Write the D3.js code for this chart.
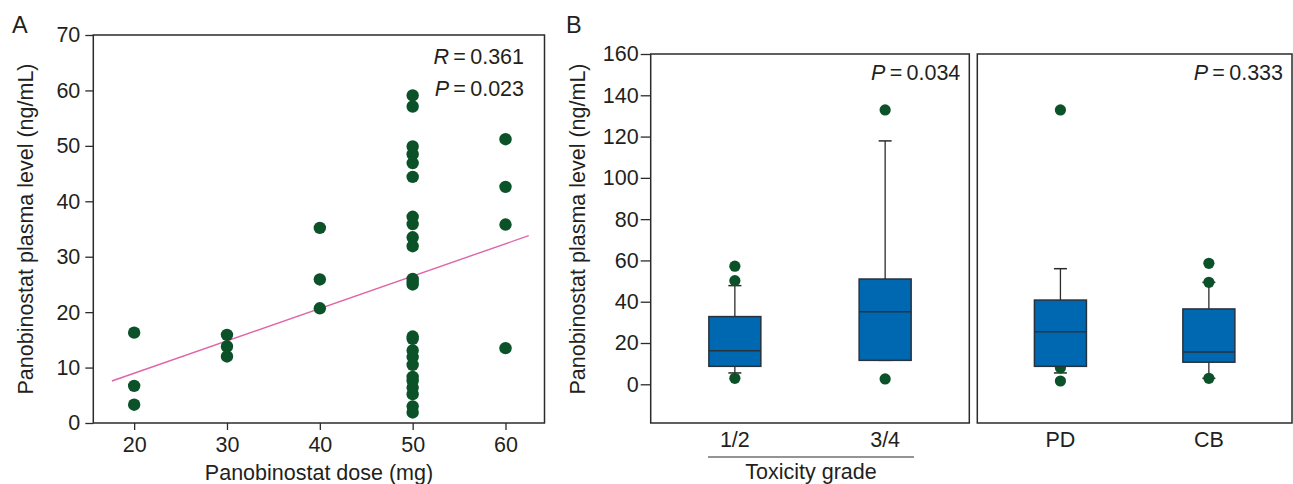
<!DOCTYPE html>
<html>
<head>
<meta charset="utf-8">
<script src="https://cdn.jsdelivr.net/npm/d3@7"></script>
<style>
  body { margin: 0; background: #fff; }
  text { font-family: "Liberation Sans", Arial, sans-serif; fill: #231f20; }
</style>
</head>
<body>
<svg id="svg" width="1293" height="484"></svg>
<script>
// ---- panel A data: plasma level (ng/mL) per dose (mg)
const doseGroups = [20, 30, 40, 50, 60];
const level20 = [16.3, 6.7, 3.3];
const level30 = [15.9, 13.8, 12.0];
const level40 = [35.2, 25.9, 20.7];
const level50 = [59.1, 57.1, 49.9, 48.5, 46.9, 44.4, 37.2, 35.9, 33.5, 31.9, 26.0, 25.5, 25.0,
  15.6, 15.2, 13.1, 11.9, 10.5, 8.3, 7.6, 6.4, 5.2, 3.0, 1.9];
const level60 = [51.2, 42.6, 35.8, 13.5];
const levelsByDose = [level20, level30, level40, level50, level60];
const fitX = [17.6, 62.5];
const fitSlope = 0.584;
const fitIntercept = -2.7;
const levelTicksA = [0, 10, 20, 30, 40, 50, 60, 70];

// ---- panel B data: box plot summaries
const toxGroups = ["1/2", "3/4"];
const respGroups = ["PD", "CB"];
const boxQ1 = { "1/2": 8.7, "3/4": 11.6, "PD": 8.7, "CB": 10.7 };
const boxMedian = { "1/2": 16.3, "3/4": 35.2, "PD": 25.5, "CB": 15.7 };
const boxQ3 = { "1/2": 32.8, "3/4": 51.0, "PD": 40.8, "CB": 36.5 };
const whiskLo = { "1/2": 5.5, "3/4": 11.6, "PD": 5.5, "CB": 2.9 };
const whiskHi = { "1/2": 47.8, "3/4": 117.9, "PD": 56.0, "CB": 49.4 };
const outliers = { "1/2": [57.2, 50.2, 2.9], "3/4": [132.9, 2.6], "PD": [132.9, 8.0, 1.6], "CB": [58.6, 49.4, 2.9] };
const levelTicksB = [0, 20, 40, 60, 80, 100, 120, 140, 160];

const dotColor = "#0b5229";
const boxColor = "#0067b1";
const ink = "#2b2b2b";
const font = "Liberation Sans, Arial, sans-serif";
const fs = 21.5;

const svg = d3.select("#svg");

function styleAxis(g) {
  g.select(".domain").remove();
  g.selectAll(".tick line").attr("stroke", ink).attr("stroke-width", 1.3);
  g.selectAll(".tick text").attr("font-size", fs).attr("font-family", font).attr("fill", "#231f20");
}

// ================= Panel A =================
const ax = d3.scaleLinear().domain([15.6, 64.2]).range([93.3, 544.5]);
const ay = d3.scaleLinear().domain([0, 70]).range([423, 35]);

svg.append("rect")
  .attr("x", ax.range()[0]).attr("y", ay.range()[1])
  .attr("width", ax.range()[1] - ax.range()[0])
  .attr("height", ay.range()[0] - ay.range()[1])
  .attr("fill", "none").attr("stroke", ink).attr("stroke-width", 1.5);

svg.append("g")
  .attr("transform", `translate(${ax.range()[0]},0)`)
  .call(d3.axisLeft(ay).tickValues(levelTicksA).tickSize(8).tickPadding(5))
  .call(styleAxis);

svg.append("g")
  .attr("transform", `translate(0,${ay.range()[0]})`)
  .call(d3.axisBottom(ax).tickValues(doseGroups).tickSize(7).tickPadding(7))
  .call(styleAxis);

svg.append("line")
  .attr("x1", ax(fitX[0])).attr("y1", ay(fitIntercept + fitSlope * fitX[0]))
  .attr("x2", ax(fitX[1])).attr("y2", ay(fitIntercept + fitSlope * fitX[1]))
  .attr("stroke", "#e064a6").attr("stroke-width", 1.4);

const pointsA = doseGroups.flatMap((dose, i) => levelsByDose[i].map(v => ({ dose, v })));

svg.append("g").selectAll("circle")
  .data(pointsA)
  .join("circle")
  .attr("cx", d => ax(d.dose))
  .attr("cy", d => ay(d.v))
  .attr("r", 6.2)
  .attr("fill", dotColor);

svg.append("text").attr("x", 12).attr("y", 33).attr("font-size", 23.5).text("A");

svg.append("text")
  .attr("transform", "translate(33,229) rotate(-90)")
  .attr("text-anchor", "middle").attr("font-size", fs)
  .text("Panobinostat plasma level (ng/mL)");

svg.append("text")
  .attr("x", 319).attr("y", 480)
  .attr("text-anchor", "middle").attr("font-size", fs)
  .text("Panobinostat dose (mg)");

function statText(x, y, letter, value) {
  const t = svg.append("text").attr("x", x).attr("y", y)
    .attr("text-anchor", "end").attr("font-size", fs);
  t.append("tspan").attr("font-style", "italic").text(letter);
  t.append("tspan").text("\u2009=\u20090." + value);
}
statText(524, 64, "R", "361");
statText(524, 96, "P", "023");

// ================= Panel B =================
const by = d3.scaleLinear().domain([-18.75, 160]).range([423, 54]);

function boxPanel(groups, x0, x1, pText, withAxis) {
  const bx = d3.scalePoint().domain(groups).range([x0, x1]).padding(0.56);
  const bw = 52, cap = 13;

  svg.append("rect")
    .attr("x", x0).attr("y", by.range()[1])
    .attr("width", x1 - x0).attr("height", by.range()[0] - by.range()[1])
    .attr("fill", "none").attr("stroke", ink).attr("stroke-width", 1.5);

  if (withAxis) {
    svg.append("g")
      .attr("transform", `translate(${x0},0)`)
      .call(d3.axisLeft(by).tickValues(levelTicksB).tickSize(10).tickPadding(2))
      .call(styleAxis);
  }

  const g = svg.append("g").selectAll("g").data(groups).join("g");

  g.append("line")
    .attr("x1", d => bx(d)).attr("x2", d => bx(d))
    .attr("y1", d => by(whiskLo[d])).attr("y2", d => by(whiskHi[d]))
    .attr("stroke", ink).attr("stroke-width", 1.3);
  g.append("line")
    .attr("x1", d => bx(d) - cap / 2).attr("x2", d => bx(d) + cap / 2)
    .attr("y1", d => by(whiskHi[d])).attr("y2", d => by(whiskHi[d]))
    .attr("stroke", ink).attr("stroke-width", 1.5);
  g.append("line")
    .attr("x1", d => bx(d) - cap / 2).attr("x2", d => bx(d) + cap / 2)
    .attr("y1", d => by(whiskLo[d])).attr("y2", d => by(whiskLo[d]))
    .attr("stroke", ink).attr("stroke-width", 1.5);

  g.selectAll("circle")
    .data(d => outliers[d].map(v => ({ g: d, v })))
    .join("circle")
    .attr("cx", d => bx(d.g))
    .attr("cy", d => by(d.v))
    .attr("r", 5.6)
    .attr("fill", dotColor);

  g.append("rect")
    .attr("x", d => bx(d) - bw / 2).attr("width", bw)
    .attr("y", d => by(boxQ3[d]))
    .attr("height", d => by(boxQ1[d]) - by(boxQ3[d]))
    .attr("fill", boxColor).attr("stroke", "#26323d").attr("stroke-width", 1.5);
  g.append("line")
    .attr("x1", d => bx(d) - bw / 2).attr("x2", d => bx(d) + bw / 2)
    .attr("y1", d => by(boxMedian[d])).attr("y2", d => by(boxMedian[d]))
    .attr("stroke", "#26323d").attr("stroke-width", 1.5);

  svg.append("g").selectAll("text").data(groups).join("text")
    .attr("x", d => bx(d)).attr("y", 447)
    .attr("text-anchor", "middle").attr("font-size", fs)
    .text(d => d);

  const t = svg.append("text").attr("x", x1 - 9).attr("y", 80)
    .attr("text-anchor", "end").attr("font-size", fs);
  t.append("tspan").attr("font-style", "italic").text("P");
  t.append("tspan").text("\u2009=\u20090." + pText);

  return bx;
}

boxPanel(toxGroups, 650.7, 969.3, "034", true);
boxPanel(respGroups, 977.3, 1292, "333", false);

svg.append("text").attr("x", 566).attr("y", 33).attr("font-size", 23.5).text("B");

svg.append("text")
  .attr("transform", "translate(585,229) rotate(-90)")
  .attr("text-anchor", "middle").attr("font-size", fs)
  .text("Panobinostat plasma level (ng/mL)");

svg.append("line")
  .attr("x1", 708).attr("x2", 914).attr("y1", 457).attr("y2", 457)
  .attr("stroke", ink).attr("stroke-width", 1.2);

svg.append("text")
  .attr("x", 811).attr("y", 479)
  .attr("text-anchor", "middle").attr("font-size", fs)
  .text("Toxicity grade");
</script>
</body>
</html>
